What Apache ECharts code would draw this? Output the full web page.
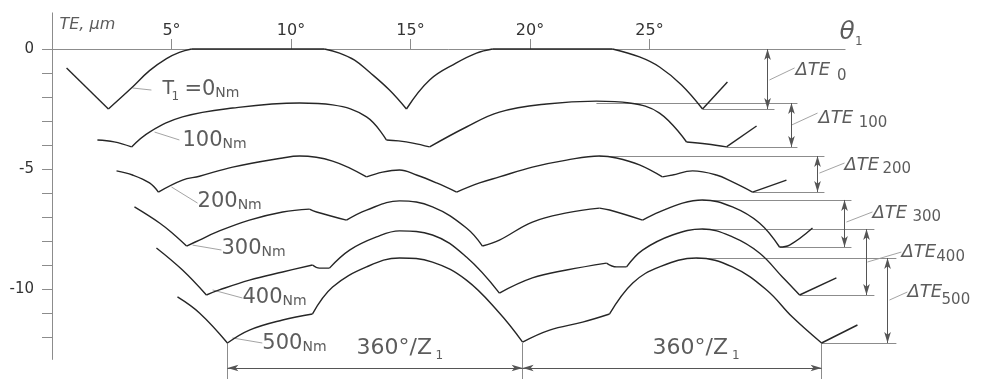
<!DOCTYPE html>
<html><head><meta charset="utf-8">
<script src="https://cdn.jsdelivr.net/npm/echarts@6/dist/echarts.min.js"></script>
<style>html,body{margin:0;padding:0;background:#fff}#c{width:985px;height:380px}</style>
</head><body><div id="c"></div>
<script>
// ---------------- data (θ1 in degrees, TE in µm) ----------------
const xTickValues = [5, 10, 15, 20, 25];
const xTickLabels = ['5°', '10°', '15°', '20°', '25°'];
const yTickValues = [0, -1, -2, -3, -4, -5, -6, -7, -8, -9, -10, -11, -12];
const yLabelValues = [0, -5, -10];
const xAxisExtent = [0, 33.2];
const yAxisExtent = [1.55, -12.95];
const torques = [0, 100, 200, 300, 400, 500];

// each curve is a list of arcs between its corners
const te0Nm = [
  [[0.61,-0.79],[2.36,-2.5]],
  [[2.36,-2.5],[3.3,-1.65],[4.08,-0.9],[4.79,-0.4],[5.33,-0.14],[5.84,0]],
  [[5.84,0],[11.4,0]],
  [[11.4,0],[12.03,-0.17],[12.66,-0.46],[13.28,-0.96],[14.12,-1.71],[14.83,-2.5]],
  [[14.83,-2.5],[15.8,-1.29],[16.92,-0.58],[17.76,-0.17],[18.43,0]],
  [[18.43,0],[23.45,0]],
  [[23.45,0],[24.58,-0.33],[25.42,-0.75],[26.34,-1.5],[27.22,-2.5]],
  [[27.22,-2.5],[28.26,-1.375]]
];
const te100Nm = [
  [[1.9,-3.79],[2.6,-3.87],[3.33,-4.08]],
  [[3.33,-4.08],[4.08,-3.46],[5.46,-2.83],[7.56,-2.46],[10.36,-2.25],[11.74,-2.33],[13.16,-2.83],[13.99,-3.79]],
  [[13.99,-3.79],[14.5,-3.83],[15.1,-3.92],[15.8,-4.08]],
  [[15.8,-4.08],[17.34,-3.25],[18.72,-2.63],[20.69,-2.29],[22.78,-2.17],[24.16,-2.25],[25.42,-2.67],[26.55,-3.875]],
  [[26.55,-3.875],[27.4,-3.96],[28.22,-4.08]],
  [[28.22,-4.08],[29.48,-3.21]]
];
const te200Nm = [
  [[2.7,-5.08],[3.37,-5.25],[4.08,-5.58],[4.45,-5.96]],
  [[4.45,-5.96],[5.46,-5.46],[6.17,-5.3],[7.56,-4.92],[9.65,-4.54],[10.36,-4.46],[11.74,-4.67],[13.16,-5.33]],
  [[13.16,-5.33],[13.83,-5.13],[14.54,-5.04],[15.25,-5.25],[16.09,-5.58],[16.93,-5.96]],
  [[16.93,-5.96],[17.89,-5.58],[18.72,-5.33],[20.1,-4.92],[21.53,-4.63],[22.91,-4.46],[23.62,-4.54],[24.58,-4.83],[25.54,-5.33]],
  [[25.54,-5.33],[25.96,-5.25],[26.8,-5.08],[27.8,-5.25],[28.47,-5.54],[29.31,-5.96]],
  [[29.31,-5.96],[30.73,-5.46]]
];
const te300Nm = [
  [[3.45,-6.58],[4.5,-7.25],[5.1,-7.73],[5.63,-8.21]],
  [[5.63,-8.21],[6.17,-7.96],[6.88,-7.63],[8.26,-7.13],[9.65,-6.79],[10.77,-6.67]],
  [[10.77,-6.67],[11.07,-6.79],[12.32,-7.13]],
  [[12.32,-7.13],[13.16,-6.71],[14.54,-6.33],[15.92,-6.58],[17.34,-7.46],[18.01,-8.21]],
  [[18.01,-8.21],[18.72,-7.96],[20.1,-7.21],[21.53,-6.83],[22.91,-6.63]],
  [[22.91,-6.63],[23.33,-6.71],[24.71,-7.13]],
  [[24.71,-7.13],[25.42,-6.79],[26.38,-6.42],[27.22,-6.29],[28.47,-6.58],[29.6,-7.25],[30.44,-8.25]],
  [[30.44,-8.25],[30.86,-8.17],[31.82,-7.46]]
];
const te400Nm = [
  [[4.37,-8.29],[5.46,-9.21],[6.46,-10.25]],
  [[6.46,-10.25],[7.0,-10.04],[8.26,-9.63],[9.65,-9.29],[10.9,-9.0]],
  [[10.9,-9.0],[11.19,-9.13],[11.61,-9.13]],
  [[11.61,-9.13],[12.45,-8.38],[13.58,-7.83],[14.54,-7.58],[15.92,-7.75],[17.34,-8.67],[18.72,-10.17]],
  [[18.72,-10.17],[20.1,-9.54],[21.53,-9.21],[23.2,-8.92]],
  [[23.2,-8.92],[23.62,-9.08],[24.04,-9.08]],
  [[24.04,-9.08],[24.71,-8.38],[25.96,-7.75],[27.22,-7.5],[28.47,-7.83],[29.6,-8.5],[30.56,-9.5],[31.28,-10.25]],
  [[31.28,-10.25],[32.82,-9.54]]
];
const te500Nm = [
  [[5.25,-10.33],[6.17,-11.0],[7.34,-12.25]],
  [[7.34,-12.25],[8.26,-11.71],[9.65,-11.29],[10.9,-11.04]],
  [[10.9,-11.04],[11.74,-9.92],[13.16,-9.08],[14.54,-8.71],[15.92,-8.88],[17.34,-9.63],[18.72,-11.0],[19.69,-12.21]],
  [[19.69,-12.21],[20.82,-11.71],[22.2,-11.38],[23.33,-11.04]],
  [[23.33,-11.04],[24.3,-9.75],[25.42,-9.08],[26.97,-8.71],[28.47,-9.08],[29.9,-10.04],[30.98,-11.17],[32.2,-12.25]],
  [[32.2,-12.25],[33.7,-11.5]]
];

// ΔTE dimensioning: reference lines [x1, x2, level], arrows [x, top, bottom]
const refLines = [
  [27.22,30.23,-2.5],[22.78,31.19,-2.25],[28.22,31.19,-4.08],[22.91,32.32,-4.46],[29.31,32.32,-5.96],
  [27.22,33.45,-6.29],[30.44,33.45,-8.25],[27.22,34.41,-7.5],[31.28,34.41,-10.25],[26.97,35.33,-8.71],[32.2,35.33,-12.25]
];
const deltaArrows = [[29.94,0,-2.5],[30.94,-2.25,-4.08],[32.03,-4.46,-5.96],[33.16,-6.29,-8.25],[34.08,-7.5,-10.25],[34.96,-8.71,-12.25]];
// pitch 360°/Z1 dimension
const pitchMarks = [7.34, 19.69, 32.2];
const pitchLevel = -13.29;
const pitchExtension = [-12.25, -13.75];

// annotation anchors [x, y]
const curveLabelAt = [[5.54,-1.67],[5.46,-3.79],[6.09,-6.33],[7.09,-8.29],[7.97,-10.33],[8.8,-12.25]];
const curveLeaders = [[[3.37,-1.625],[4.16,-1.71]],[[4.29,-3.46],[5.33,-3.79]],[[5.0,-5.75],[6.09,-6.42]],[[5.88,-8.17],[7.09,-8.375]],[[6.72,-10.04],[7.97,-10.375]],[[7.55,-12.04],[8.8,-12.25]]];
const deltaLabelAt = [[31.11,-0.875],[32.07,-2.875],[33.16,-4.83],[34.33,-6.83],[35.54,-8.46],[35.79,-10.125]];
const deltaSubAt = [[32.85,-1.125],[33.75,-3.08],[34.75,-5.0],[36.0,-7.0],[37.0,-8.67],[37.22,-10.46]];
const deltaLeaders = [[[30.02,-1.29],[31.07,-0.79]],[[30.94,-3.17],[32.03,-2.67]],[[32.11,-5.17],[33.16,-4.75]],[[33.24,-7.21],[34.33,-6.79]],[[34.12,-8.875],[35.54,-8.46]],[[35.04,-10.46],[35.79,-10.125]]];
const pitchLabelAt = [[12.74,-12.46],[25.13,-12.46]];
const pitchSubAt = [[16.05,-12.79],[28.45,-12.79]];

// ---------------- chart ----------------
const FONT = 'DejaVu Sans';
const INK = '#262626';
const series = [];

// axis lines
series.push({type:'lines', coordinateSystem:'cartesian2d', silent:true, z:1,
  lineStyle:{color:'#8c8c8c', width:1, opacity:1},
  data:[{coords:[[xAxisExtent[0],0],[xAxisExtent[1],0]]},{coords:[[0,yAxisExtent[0]],[0,yAxisExtent[1]]]}]});

// curves
[te0Nm, te100Nm, te200Nm, te300Nm, te400Nm, te500Nm].forEach(function (segs) {
  segs.forEach(function (seg) {
    series.push({type:'line', data:seg, symbol:'none', showSymbol:false, smooth:0.4, silent:true, z:5,
      lineStyle:{color:INK, width:1.4}});
  });
});

// reference lines
series.push({type:'lines', coordinateSystem:'cartesian2d', silent:true, z:2,
  lineStyle:{color:'#8c8c8c', width:1, opacity:1},
  data: refLines.map(function (r) { return {coords:[[r[0],r[2]],[r[1],r[2]]]}; })
    .concat(pitchMarks.map(function (x) { return {coords:[[x,pitchExtension[0]],[x,pitchExtension[1]]]}; }))});

// dimension arrows
series.push({type:'lines', coordinateSystem:'cartesian2d', silent:true, z:3,
  symbol:['arrow','arrow'], symbolSize:[[5,11],[5,11]],
  lineStyle:{color:'#555', width:1, opacity:1},
  data: deltaArrows.map(function (a) { return {coords:[[a[0],a[1]],[a[0],a[2]]]}; })
    .concat(pitchMarks.slice(0,-1).map(function (x, i) { return {coords:[[x,pitchLevel],[pitchMarks[i+1],pitchLevel]]}; }))});

// leaders
series.push({type:'lines', coordinateSystem:'cartesian2d', silent:true, z:2,
  lineStyle:{color:'#9a9a9a', width:0.9, opacity:1},
  data: curveLeaders.concat(deltaLeaders).map(function (c) { return {coords:c}; })});

// texts
const notes = [];
function note(pos, fmt) { notes.push({value:pos, label:{formatter:fmt}}); }
curveLabelAt.forEach(function (p, i) {
  note(p, '{n|' + (i === 0 ? '=' : '') + torques[i] + '}{u|Nm}');
});
note([4.62,-1.67], '{t|T}');
note([5.0,-2.0], '{s|1}');
deltaLabelAt.forEach(function (p, i) {
  note(p, '{d|ΔTE}');
  note(deltaSubAt[i], '{ds|' + torques[i] + '}');
});
pitchLabelAt.forEach(function (p, i) {
  note(p, '{p|360°/Z}');
  note(pitchSubAt[i], '{s|1}');
});
note([0.31,1.0], '{ax|TE, µm}');
note([32.95,0.67], '{th|θ}');
note([33.6,0.3], '{s|1}');

series.push({type:'scatter', symbolSize:0, silent:true, z:6, data:notes,
  label:{show:true, position:'right', distance:0, color:INK, fontFamily:FONT,
    rich:{
      n:{fontSize:21, fontFamily:FONT, color:'#333', verticalAlign:'bottom', lineHeight:22},
      u:{fontSize:14, fontFamily:FONT, color:'#333', verticalAlign:'bottom', lineHeight:17},
      t:{fontSize:19, fontFamily:FONT, color:'#333'},
      s:{fontSize:12, fontFamily:FONT, color:'#333'},
      d:{fontSize:18, fontFamily:FONT, fontStyle:'italic', color:'#333'},
      ds:{fontSize:15, fontFamily:FONT, color:'#333'},
      p:{fontSize:22, fontFamily:FONT, color:'#333'},
      ax:{fontSize:16, fontFamily:FONT, fontStyle:'italic', color:'#333'},
      th:{fontSize:25, fontFamily:FONT, fontStyle:'italic', color:'#333'}
    }}});

const chart = echarts.init(document.getElementById('c'), null, {renderer:'canvas'});
chart.setOption({
  animation:false,
  backgroundColor:'#fff',
  grid:{left:52, top:13, width:908.2, height:366},
  xAxis:{type:'value', min:0, max:38, position:'top', offset:-36,
    axisLine:{show:false, onZero:false},
    splitLine:{show:false},
    axisTick:{show:true, length:10, customValues:xTickValues, lineStyle:{color:'#8c8c8c'}},
    axisLabel:{show:true, margin:10, customValues:xTickValues, fontFamily:FONT, fontSize:16, color:'#333',
      formatter:function (v) { return xTickLabels[xTickValues.indexOf(v)]; }}},
  yAxis:{type:'value', min:-13.75, max:1.5,
    axisLine:{show:false, onZero:false},
    splitLine:{show:false},
    axisTick:{show:true, length:10, customValues:yTickValues, lineStyle:{color:'#8c8c8c'}},
    axisLabel:{show:true, margin:18, customValues:yLabelValues, fontFamily:FONT, fontSize:15, color:'#333'}},
  series:series
});
</script>
</body></html>
